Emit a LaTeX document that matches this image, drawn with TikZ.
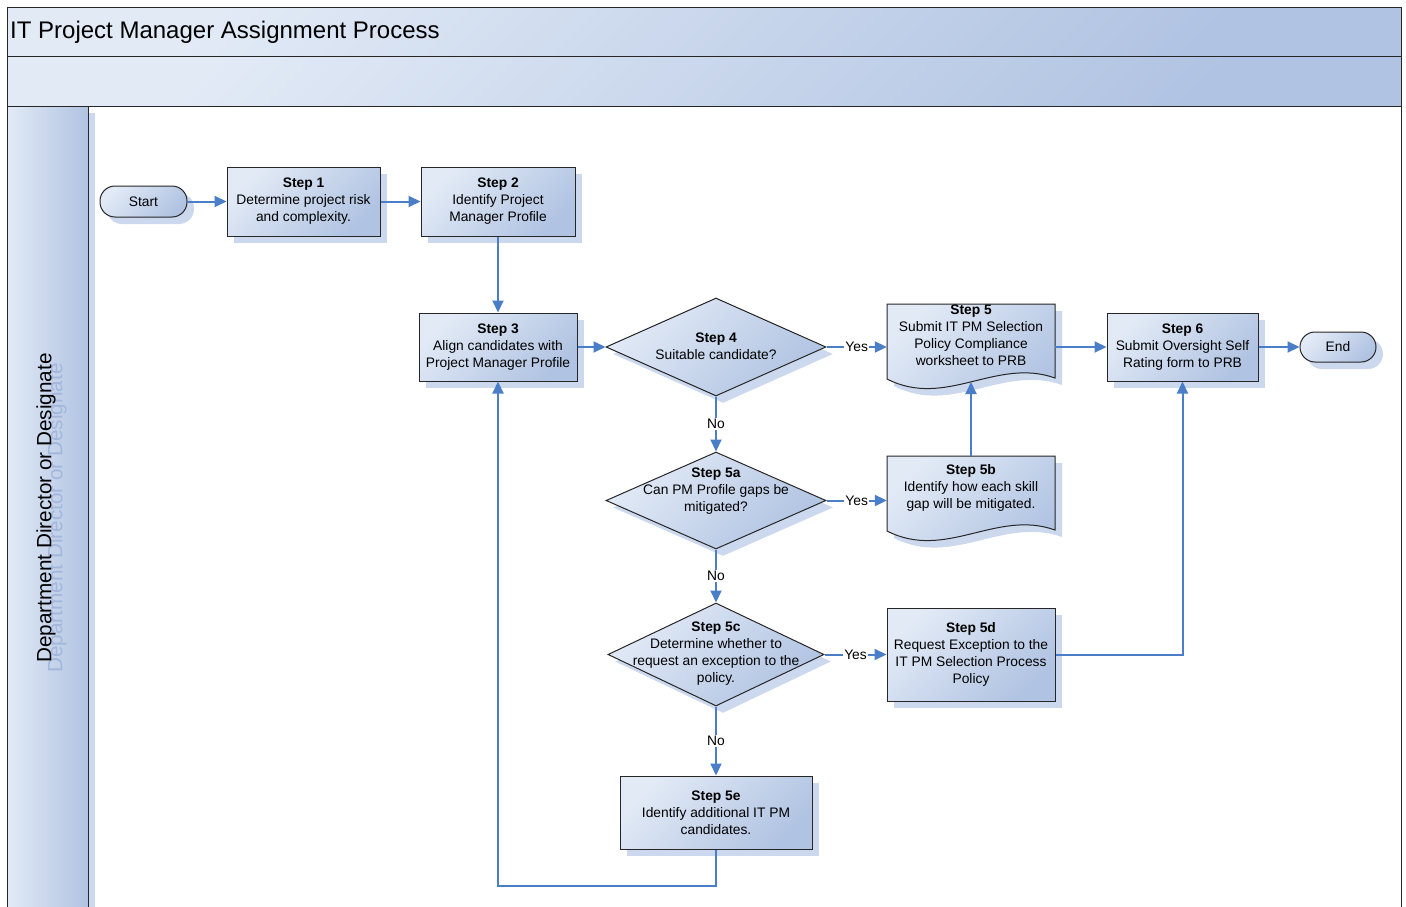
\documentclass[tikz,border=0pt]{standalone}
\usepackage{fontspec}
\setmainfont{Liberation Sans}
\usetikzlibrary{arrows.meta,shapes.geometric,shadows}
\definecolor{gl}{HTML}{E2EAF6}
\definecolor{gd}{HTML}{B0C3E2}
\definecolor{shc}{HTML}{CBD8EE}
\definecolor{ln}{HTML}{4A7EC8}
\definecolor{bd}{HTML}{262626}
\definecolor{lanesh}{HTML}{A3B7DC}
\newcommand\nf{\fontsize{13.8}{17}\selectfont}
\newcommand\docpath[4]{(#1,#2) -- (#3,#2) -- (#3,{#4-1}) .. controls ({#1+0.65*(#3-#1)},{#4-22}) and ({#1+0.35*(#3-#1)},{#4+30}) .. (#1,#4) -- cycle}
\begin{document}
\begin{tikzpicture}[x=1pt,y=-1pt,
 box/.style={draw=bd, line width=1pt, top color=gl, bottom color=gd, shading angle=45,
   drop shadow={fill=shc, opacity=1, shadow xshift=7pt, shadow yshift=-7pt},
   align=center, font=\nf, inner sep=2pt},
 proc/.style={box, rectangle},
 dec/.style={box, diamond, inner sep=0pt},
 term/.style={box, rectangle, rounded corners=15pt, minimum height=31pt},
 txt/.style={align=center, font=\nf, inner sep=0pt},
 ghost/.style={rectangle, draw=none, inner sep=0pt},
 flow/.style={draw=ln, line width=2pt, -{Triangle[length=12pt,width=11pt]}},
 lbl/.style={fill=white, inner sep=1pt, font=\nf},
 frame/.style={draw=bd, line width=1pt}]
\useasboundingbox (0,0) rectangle (1406,907);
\fill[white] (0,0) rectangle (1406,907);
% pool and lane
\shade[top color=gl, bottom color=gd, shading angle=45] (7,8) rectangle (1401,57);
\shade[top color=gl, bottom color=gd, shading angle=45] (7,57) rectangle (1401,106);
\shade[left color=gl, right color=gd] (7,106) rectangle (88,907);
\fill[shc] (88,113) rectangle (95,907);
\draw[frame] (7,907) -- (7,8) -- (1401,8) -- (1401,907);
\draw[frame] (7,57) -- (1401,57);
\draw[frame] (7,106) -- (1401,106);
\draw[frame] (88,106) -- (88,907);
\node[anchor=west, font=\fontsize{24}{28}\selectfont, inner sep=0pt] (title) at (10,32) {IT Project Manager Assignment Process};
\node[rotate=90, font=\fontsize{20.7}{24}\selectfont, text=lanesh, inner sep=0pt] (laneshadow) at (57,518) {Department Director or Designate};
\node[rotate=90, font=\fontsize{20.7}{24}\selectfont, inner sep=0pt] (lane) at (46,508) {Department Director or Designate};

% document shapes
\fill[shc, shift={(7,7)}] \docpath{887}{304}{1055}{379};
\shade[draw=bd, line width=1pt, top color=gl, bottom color=gd, shading angle=45] \docpath{887}{304}{1055}{379};
\fill[shc, shift={(7,7)}] \docpath{887}{456}{1055}{531};
\shade[draw=bd, line width=1pt, top color=gl, bottom color=gd, shading angle=45] \docpath{887}{456}{1055}{531};
\node[ghost, minimum width=168pt, minimum height=75pt] (s5) at (971,341.5) {};
\node[ghost, minimum width=168pt, minimum height=75pt] (s5b) at (971,493.5) {};
\coordinate (s5w) at (971,382);
\node[txt] (s5t) at (971,335) {\textbf{Step 5}\\Submit IT PM Selection\\Policy Compliance\\worksheet to PRB};
\node[txt] (s5bt) at (971,488) {\textbf{Step 5b}\\Identify how each skill\\gap will be mitigated.};

% nodes
\node[term, minimum width=87pt] (st) at (143.5,201.5) {Start};
\node[proc, minimum width=153pt, minimum height=69pt] (s1) at (303.5,201.5) {\textbf{Step 1}\\Determine project risk\\and complexity.};
\node[proc, minimum width=154pt, minimum height=69pt] (s2) at (498,201.5) {\textbf{Step 2}\\Identify Project\\Manager Profile};
\node[proc, minimum width=158pt, minimum height=68pt] (s3) at (498,347) {\textbf{Step 3}\\Align candidates with\\Project Manager Profile};
\node[dec, minimum width=220pt, minimum height=98pt] (d4) at (716,347) {};
\node[txt] (d4t) at (716,346) {\textbf{Step 4}\\Suitable candidate?};
\node[proc, minimum width=151pt, minimum height=68pt] (s6) at (1182.5,347) {\textbf{Step 6}\\Submit Oversight Self\\Rating form to PRB};
\node[term, minimum width=76pt, minimum height=30pt] (en) at (1338,347) {End};
\node[dec, minimum width=220pt, minimum height=97pt] (d5a) at (716,500.5) {};
\node[txt] (d5at) at (716,491) {\textbf{Step 5a}\\Can PM Profile gaps be\\mitigated?};
\node[dec, minimum width=216pt, minimum height=103pt] (d5c) at (716,654.5) {};
\node[txt] (d5ct) at (716,654) {\textbf{Step 5c}\\Determine whether to\\request an exception to the\\policy.};
\node[proc, minimum width=168pt, minimum height=93pt] (s5d) at (971,654.5) {\textbf{Step 5d}\\Request Exception to the\\IT PM Selection Process\\Policy};
\node[proc, minimum width=192pt, minimum height=73pt] (s5e) at (716,812.5) {\textbf{Step 5e}\\Identify additional IT PM\\candidates.};

% connectors
\draw[flow] (st.east) -- (st.east -| s1.west);
\draw[flow] (s1.east) -- (s2.west);
\draw[flow] (s2.south) -- (s3.north);
\draw[flow] (s3.east) -- (d4.west);
\draw[flow] (d4.east) -- node[lbl] {Yes} (d4.east -| s5.west);
\draw[flow] (d4.south) -- node[lbl] {No} (d5a.north);
\draw[flow] (d5a.east) -- node[lbl] {Yes} (d5a.east -| s5b.west);
\draw[flow] (d5a.south) -- node[lbl] {No} (d5c.north);
\draw[flow] (d5c.east) -- node[lbl] {Yes} (d5c.east -| s5d.west);
\draw[flow] (d5c.south) -- node[lbl] {No} (s5e.north);
\draw[flow] (s5b.north) -- (s5w);
\draw[flow] (s5.east |- s6.west) -- (s6.west);
\draw[flow] (s6.east) -- (en.west);
\draw[flow] (s5d.east) -| (s6.south);
\draw[flow] (s5e.south) -- ++(0,36) -| (s3.south);
\end{tikzpicture}
\end{document}
